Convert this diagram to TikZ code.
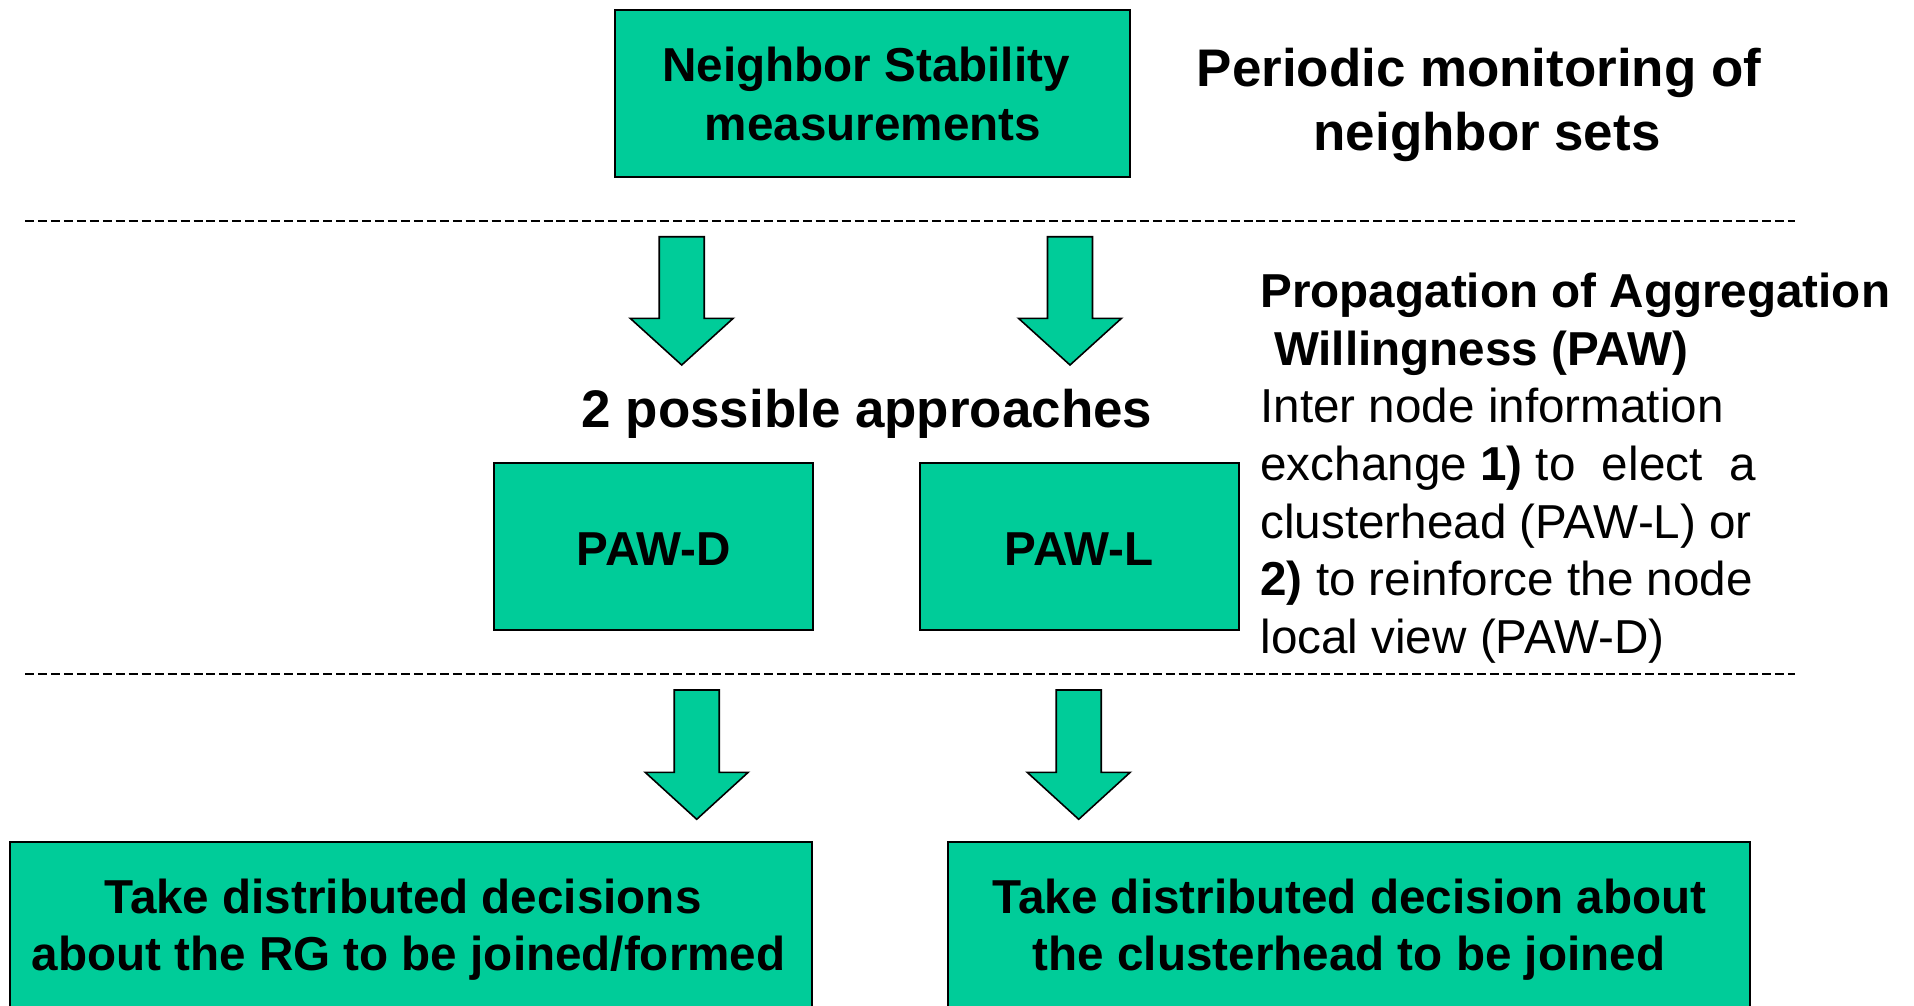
\documentclass[tikz,border=0pt]{standalone}
\usepackage{fontspec}
\setmainfont{Liberation Sans}
\definecolor{pawgreen}{HTML}{00CC99}
\newcommand\pawarrow[4]{%
  \draw[blk] ({#1-22.5},#2) -- ({#1+22.5},#2) -- ({#1+22.5},#3) -- ({#1+51.5},#3)
    -- (#1,#4) -- ({#1-51.5},#3) -- ({#1-22.5},#3) -- cycle;}
\begin{document}
\begin{tikzpicture}[x=0.378pt,y=-0.378pt,
  box/.style={draw=black,line width=0.75pt,fill=pawgreen,inner sep=0pt,outer sep=0pt},
  txt/.style={inner sep=0pt,outer sep=0pt,anchor=base,font=\fontsize{18}{21.8}\selectfont\bfseries},
  bigtxt/.style={inner sep=0pt,outer sep=0pt,anchor=base,font=\fontsize{20}{24}\selectfont\bfseries},
  rtxt/.style={inner sep=0pt,outer sep=0pt,anchor=base west,font=\fontsize{18}{21.8}\selectfont},
  blk/.style={draw=black,line width=0.6pt,fill=pawgreen,line join=miter},
  sep/.style={draw=black,line width=0.7pt,dash pattern=on 3.4pt off 1.5pt}]
\useasboundingbox (0,0) rectangle (1914,1005);
\clip (0,0) rectangle (1914,1005);
\fill[white] (0,0) rectangle (1914,1005);

% boxes
\node[box,minimum width={515*0.378pt},minimum height={166.7*0.378pt}] (ns) at (872.5,93.35) {};
\node[box,minimum width={318.7*0.378pt},minimum height={166.7*0.378pt}] (pawd) at (653.35,546.65) {};
\node[box,minimum width={318.7*0.378pt},minimum height={166.7*0.378pt}] (pawl) at (1079.35,546.65) {};
\node[box,minimum width={802.3*0.378pt},minimum height={198.3*0.378pt}] (dec1) at (411.15,940.85) {};
\node[box,minimum width={801.7*0.378pt},minimum height={198.3*0.378pt}] (dec2) at (1349.15,940.85) {};

% box texts
\node[txt] (ns1) at (866,81.7) {Neighbor Stability};
\node[txt] (ns2) at (873,140) {measurements};
\node[txt] (pawdt) at (654,565.7) {PAW-D};
\node[txt] (pawlt) at (1079.3,565.7) {PAW-L};
\node[txt] (d1a) at (403,913.3) {Take distributed decisions};
\node[txt] (d1b) at (408.5,970) {about the RG to be joined/formed};
\node[txt] (d2a) at (1349.5,913.3) {Take distributed decision about};
\node[txt] (d2b) at (1349,970) {the clusterhead to be joined};

% free texts
\node[bigtxt] (per1) at (1479,86.7) {Periodic monitoring of};
\node[bigtxt] (per2) at (1487,150.7) {neighbor sets};
\node[bigtxt] (appr) at (867,427.3) {2 possible approaches};

\node[rtxt,font=\fontsize{18}{21.8}\selectfont\bfseries] (r1) at (1260.5,307) {Propagation of Aggregation};
\node[rtxt,font=\fontsize{18}{21.8}\selectfont\bfseries] (r2) at (1274,365) {Willingness (PAW)};
\node[rtxt] (r3) at (1260.5,422.5) {Inter node information};
\node[rtxt] (r4) at (1260.5,480) {exchange \textbf{1)} to~~elect~~a};
\node[rtxt] (r5) at (1260.5,538) {clusterhead (PAW-L) or};
\node[rtxt] (r6) at (1260.5,595.5) {\textbf{2)} to reinforce the node};
\node[rtxt] (r7) at (1260.5,653) {local view (PAW-D)};

% separators
\draw[sep] (25,220.7) -- (1795,220.7);
\draw[sep] (25,674.3) -- (1795,674.3);

% block arrows
\pawarrow{681.7}{236.7}{318.3}{365}
\pawarrow{1070}{236.7}{318.3}{365}
\pawarrow{696.7}{690}{772.3}{819.3}
\pawarrow{1078.7}{690}{772.3}{819.3}
\end{tikzpicture}
\end{document}
